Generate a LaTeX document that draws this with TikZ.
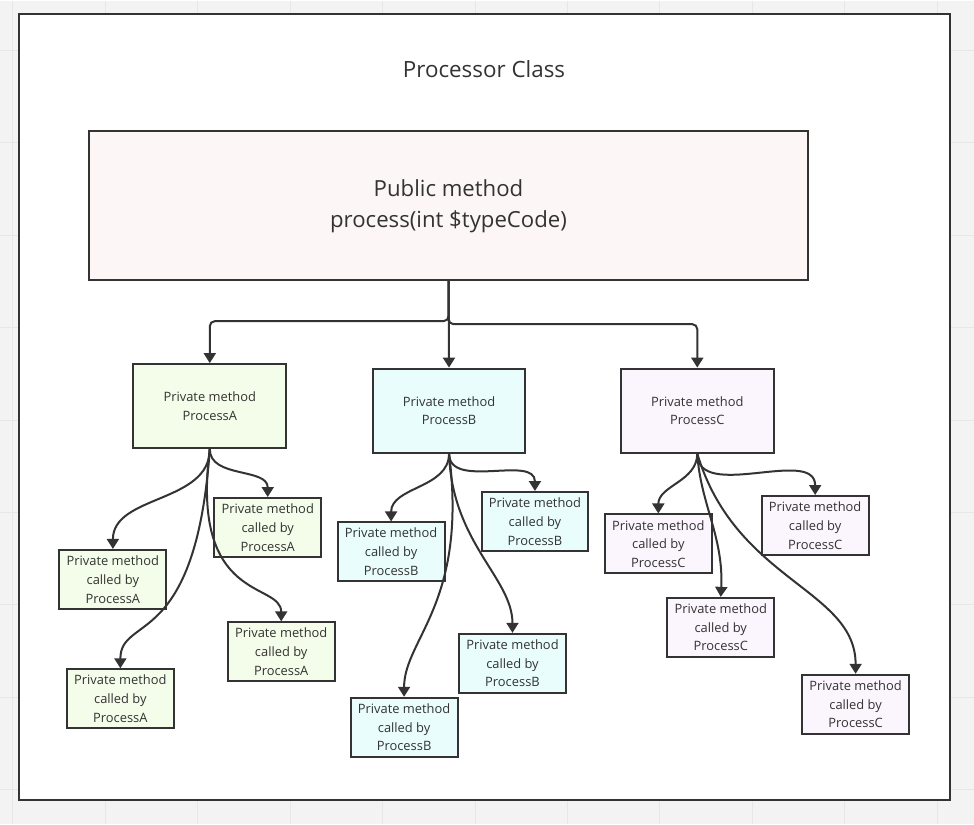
\documentclass[tikz,border=0pt]{standalone}
\usepackage{fontspec}
\setmainfont{Open Sans}
\usetikzlibrary{arrows.meta}
\definecolor{ink}{HTML}{333333}
\definecolor{canvas}{HTML}{F3F3F3}
\definecolor{gridline}{HTML}{E7E7E7}
\definecolor{pubfill}{HTML}{FDF6F6}
\definecolor{afill}{HTML}{F4FDEA}
\definecolor{bfill}{HTML}{E9FDFD}
\definecolor{cfill}{HTML}{FBF5FD}

\begin{document}
\begin{tikzpicture}[
  x=1pt, y=1pt,
  method/.style={rectangle, draw=ink, line width=2pt, text=ink, align=center,
                 inner sep=0pt, minimum width=153pt, minimum height=84pt,
                 font=\fontsize{12.9}{18.8}\selectfont},
  helper/.style={method, minimum width=107pt, minimum height=59pt},
  arr/.style={-{Triangle[length=10pt,width=12pt]}, draw=ink, line width=2pt}
]
  % canvas with grid
  \fill[canvas] (0,0) rectangle (974,-824);
  \foreach \gx in {0,...,10}
    \draw[gridline, line width=1pt] (12.5+92.5*\gx,0) -- (12.5+92.5*\gx,-824);
  \foreach \gy in {0,...,8}
    \draw[gridline, line width=1pt] (0,-50-92.5*\gy) -- (974,-50-92.5*\gy);
  \useasboundingbox (0,0) rectangle (974,-824);

  % class frame
  \draw[ink, fill=white, line width=2pt] (19,-14) rectangle (950,-800);
  \node[text=ink, font=\fontsize{22.4}{30}\selectfont] (title) at (484,-69) {Processor Class};

  \node[method, fill=pubfill, minimum width=719pt, minimum height=149pt,
        font=\fontsize{22.2}{31}\selectfont] (pub) at (448.5,-205.5)
    {Public method\\process(int \$typeCode)};

  \node[method, fill=afill] (A) at (209.5,-406) {Private method\\ProcessA};
  \node[method, fill=bfill] (B) at (449,-410.5) {Private method\\ProcessB};
  \node[method, fill=cfill] (C) at (697.5,-410.5) {Private method\\ProcessC};

  \draw[arr, rounded corners=5pt] (pub.south) -- ++(0,-40) -| (A.north);
  \draw[arr] (pub.south) -- (B.north);
  \draw[arr, rounded corners=5pt] (pub.south) -- ++(0,-43) -| (C.north);

  % helpers of ProcessA
  \node[helper, fill=afill] (A1) at (112.5,-579.5) {Private method\\called by\\ProcessA};
  \node[helper, fill=afill] (A2) at (267.5,-527.5) {Private method\\called by\\ProcessA};
  \node[helper, fill=afill] (A3) at (281,-652) {Private method\\called by\\ProcessA};
  \node[helper, fill=afill] (A4) at (120,-699) {Private method\\called by\\ProcessA};

  \draw[arr] (A.south) to[out=-90, in=90] (A1.north);
  \draw[arr] (A.south) to[out=-90, in=90] (A2.north);
  \draw[arr] (A.south) .. controls +(-20,-155) and +(0,40) .. (A3.north);
  \draw[arr] (A.south) .. controls +(-14,-202) and +(0,54) .. (A4.north);

  % helpers of ProcessB
  \node[helper, fill=bfill] (B1) at (391,-552) {Private method\\called by\\ProcessB};
  \node[helper, fill=bfill] (B2) at (535,-521.5) {Private method\\called by\\ProcessB};
  \node[helper, fill=bfill] (B3) at (512.5,-663.5) {Private method\\called by\\ProcessB};
  \node[helper, fill=bfill] (B4) at (404,-727.5) {Private method\\called by\\ProcessB};

  \draw[arr] (B.south) to[out=-90, in=90] (B1.north);
  \draw[arr] (B.south) to[out=-90, in=90] (B2.north);
  \draw[arr] (B.south) .. controls +(3,-90) and +(0,55) .. (B3.north);
  \draw[arr] (B.south) .. controls +(19,-150) and +(0,58) .. (B4.north);

  % helpers of ProcessC
  \node[helper, fill=cfill] (C1) at (658.5,-544) {Private method\\called by\\ProcessC};
  \node[helper, fill=cfill] (C2) at (815.5,-525.5) {Private method\\called by\\ProcessC};
  \node[helper, fill=cfill] (C3) at (721,-627.5) {Private method\\called by\\ProcessC};
  \node[helper, fill=cfill] (C4) at (856,-704.5) {Private method\\called by\\ProcessC};

  \draw[arr] (C.south) to[out=-90, in=90] (C1.north);
  \draw[arr] (C.south) to[out=-90, in=90] (C2.north);
  \draw[arr] (C.south) .. controls +(3,-50) and +(3,60) .. (C3.north);
  \draw[arr] (C.south) .. controls +(38,-128) and +(0,85) .. (C4.north);
\end{tikzpicture}
\end{document}
